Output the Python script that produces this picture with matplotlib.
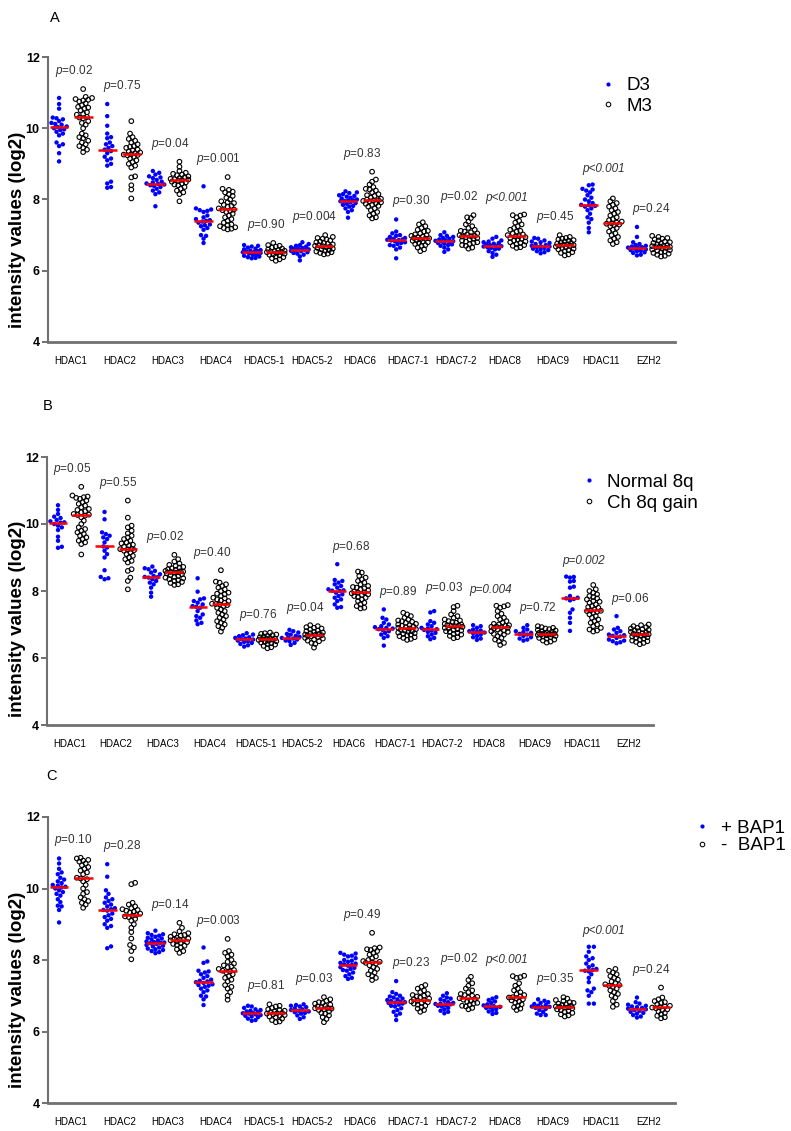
import numpy as np
import matplotlib.pyplot as plt
from matplotlib.lines import Line2D

plt.rcParams['font.family'] = ['Liberation Sans', 'DejaVu Sans']
plt.rcParams['mathtext.fontset'] = 'custom'
plt.rcParams['mathtext.it'] = 'Liberation Sans:italic'
plt.rcParams['mathtext.rm'] = 'Liberation Sans'

genes = ['HDAC1', 'HDAC2', 'HDAC3', 'HDAC4', 'HDAC5-1', 'HDAC5-2', 'HDAC6',
         'HDAC7-1', 'HDAC7-2', 'HDAC8', 'HDAC9', 'HDAC11', 'EZH2']

# ---- panel A : D3 vs M3
a_d3 = [
    [10.85, 10.68, 10.55, 10.3, 10.28, 10.25, 10.2, 10.15, 10.12, 10.1, 10.05, 10.03, 10.0, 9.97, 9.95, 9.9, 9.85, 9.8, 9.6, 9.55, 9.5, 9.3, 9.07],
    [10.68, 10.34, 10.07, 9.85, 9.75, 9.72, 9.6, 9.55, 9.5, 9.45, 9.4, 9.36, 9.3, 9.2, 9.15, 9.1, 9.0, 8.95, 8.5, 8.45, 8.35, 8.33],
    [8.8, 8.75, 8.7, 8.65, 8.62, 8.6, 8.55, 8.5, 8.48, 8.45, 8.44, 8.42, 8.4, 8.38, 8.35, 8.3, 8.25, 8.2, 8.15, 7.81],
    [8.37, 7.75, 7.72, 7.7, 7.68, 7.65, 7.55, 7.5, 7.45, 7.42, 7.4, 7.38, 7.35, 7.3, 7.28, 7.25, 7.2, 7.15, 7.0, 6.98, 6.9, 6.78],
    [6.72, 6.7, 6.68, 6.65, 6.62, 6.6, 6.58, 6.56, 6.55, 6.54, 6.53, 6.52, 6.5, 6.48, 6.46, 6.45, 6.42, 6.4, 6.38, 6.36, 6.35],
    [6.8, 6.75, 6.72, 6.7, 6.68, 6.66, 6.64, 6.62, 6.61, 6.6, 6.59, 6.58, 6.56, 6.55, 6.52, 6.5, 6.48, 6.45, 6.4, 6.29],
    [8.23, 8.2, 8.18, 8.15, 8.12, 8.1, 8.08, 8.05, 8.03, 8.0, 7.98, 7.97, 7.96, 7.95, 7.92, 7.9, 7.88, 7.85, 7.82, 7.8, 7.75, 7.7, 7.65, 7.49],
    [7.44, 7.1, 7.05, 7.0, 6.98, 6.95, 6.92, 6.9, 6.88, 6.87, 6.86, 6.85, 6.83, 6.8, 6.78, 6.75, 6.72, 6.7, 6.65, 6.6, 6.35],
    [7.08, 7.0, 6.98, 6.95, 6.92, 6.9, 6.88, 6.86, 6.84, 6.83, 6.82, 6.8, 6.78, 6.76, 6.74, 6.72, 6.7, 6.65, 6.6, 6.53],
    [6.95, 6.9, 6.85, 6.82, 6.8, 6.78, 6.76, 6.74, 6.72, 6.7, 6.69, 6.68, 6.66, 6.64, 6.62, 6.6, 6.55, 6.5, 6.45, 6.39],
    [6.92, 6.9, 6.85, 6.82, 6.8, 6.78, 6.75, 6.72, 6.7, 6.69, 6.68, 6.66, 6.64, 6.62, 6.6, 6.58, 6.55, 6.52, 6.49],
    [8.42, 8.4, 8.3, 8.28, 8.25, 8.2, 8.12, 8.05, 8.0, 7.95, 7.9, 7.85, 7.84, 7.82, 7.8, 7.75, 7.7, 7.6, 7.5, 7.45, 7.35, 7.2, 7.08],
    [7.23, 6.95, 6.8, 6.75, 6.72, 6.7, 6.68, 6.66, 6.65, 6.64, 6.62, 6.6, 6.58, 6.56, 6.55, 6.52, 6.5, 6.45, 6.43],
]
a_m3 = [
    [11.1, 10.88, 10.85, 10.82, 10.8, 10.78, 10.75, 10.7, 10.65, 10.6, 10.58, 10.55, 10.5, 10.45, 10.4, 10.38, 10.32, 10.3, 10.28, 10.2, 10.15, 10.1, 10.0, 9.85, 9.8, 9.75, 9.72, 9.65, 9.6, 9.55, 9.5, 9.45, 9.4, 9.33],
    [10.2, 9.85, 9.75, 9.7, 9.65, 9.6, 9.55, 9.5, 9.48, 9.45, 9.4, 9.38, 9.35, 9.32, 9.3, 9.27, 9.26, 9.25, 9.24, 9.2, 9.15, 9.1, 9.05, 9.0, 8.95, 8.9, 8.65, 8.62, 8.4, 8.28, 8.03],
    [9.06, 8.92, 8.8, 8.75, 8.72, 8.7, 8.68, 8.65, 8.62, 8.6, 8.58, 8.57, 8.56, 8.55, 8.52, 8.5, 8.48, 8.45, 8.42, 8.4, 8.35, 8.3, 8.25, 8.2, 8.15, 7.95],
    [8.63, 8.3, 8.27, 8.22, 8.2, 8.15, 8.1, 8.05, 8.0, 7.95, 7.92, 7.9, 7.85, 7.82, 7.8, 7.75, 7.72, 7.7, 7.68, 7.65, 7.6, 7.55, 7.5, 7.45, 7.4, 7.35, 7.3, 7.28, 7.25, 7.22, 7.2, 7.18, 7.16],
    [6.78, 6.72, 6.7, 6.68, 6.65, 6.62, 6.6, 6.58, 6.56, 6.55, 6.54, 6.53, 6.52, 6.5, 6.48, 6.46, 6.45, 6.43, 6.4, 6.38, 6.35, 6.32, 6.28],
    [7.0, 6.95, 6.92, 6.9, 6.88, 6.85, 6.82, 6.8, 6.78, 6.76, 6.74, 6.72, 6.7, 6.69, 6.68, 6.66, 6.64, 6.62, 6.6, 6.58, 6.56, 6.54, 6.52, 6.5, 6.48, 6.46],
    [8.78, 8.56, 8.5, 8.42, 8.35, 8.3, 8.28, 8.25, 8.2, 8.15, 8.12, 8.1, 8.05, 8.02, 8.0, 7.98, 7.97, 7.96, 7.95, 7.92, 7.9, 7.88, 7.85, 7.82, 7.8, 7.75, 7.7, 7.65, 7.6, 7.55, 7.5, 7.47],
    [7.36, 7.3, 7.25, 7.2, 7.15, 7.12, 7.1, 7.05, 7.02, 7.0, 6.98, 6.96, 6.94, 6.92, 6.91, 6.9, 6.88, 6.86, 6.84, 6.82, 6.8, 6.78, 6.75, 6.72, 6.7, 6.65, 6.6, 6.55],
    [7.56, 7.5, 7.48, 7.38, 7.3, 7.25, 7.2, 7.15, 7.12, 7.1, 7.08, 7.05, 7.02, 7.0, 6.98, 6.97, 6.96, 6.94, 6.92, 6.9, 6.88, 6.85, 6.82, 6.8, 6.78, 6.75, 6.72, 6.7, 6.65, 6.62],
    [7.58, 7.56, 7.55, 7.5, 7.4, 7.35, 7.3, 7.25, 7.2, 7.15, 7.12, 7.1, 7.05, 7.02, 7.0, 6.97, 6.96, 6.94, 6.92, 6.9, 6.88, 6.85, 6.82, 6.8, 6.78, 6.75, 6.72, 6.7, 6.66, 6.64],
    [7.0, 6.95, 6.92, 6.9, 6.88, 6.86, 6.84, 6.82, 6.8, 6.78, 6.76, 6.74, 6.73, 6.72, 6.71, 6.7, 6.68, 6.66, 6.64, 6.62, 6.6, 6.58, 6.55, 6.52, 6.5, 6.46, 6.43],
    [8.03, 7.95, 7.9, 7.85, 7.8, 7.75, 7.7, 7.65, 7.6, 7.55, 7.5, 7.45, 7.42, 7.38, 7.35, 7.33, 7.32, 7.3, 7.28, 7.25, 7.2, 7.15, 7.1, 7.05, 7.0, 6.95, 6.9, 6.85, 6.8, 6.75],
    [6.98, 6.95, 6.92, 6.9, 6.88, 6.85, 6.82, 6.8, 6.78, 6.76, 6.74, 6.72, 6.7, 6.69, 6.68, 6.67, 6.66, 6.64, 6.62, 6.6, 6.58, 6.56, 6.54, 6.52, 6.5, 6.48, 6.45, 6.42, 6.4],
]
a_p = ['=0.02', '=0.75', '=0.04', '=0.001', '=0.90', '=0.004', '=0.83',
       '=0.30', '=0.02', '<0.001', '=0.45', '<0.001', '=0.24']

# ---- panel B : Normal 8q vs Ch 8q gain
b_norm = [
    [10.56, 10.42, 10.3, 10.22, 10.18, 10.12, 10.08, 10.05, 10.04, 10.0, 9.95, 9.9, 9.82, 9.62, 9.5, 9.32, 9.29],
    [10.36, 10.14, 9.75, 9.7, 9.65, 9.6, 9.55, 9.45, 9.33, 9.3, 9.2, 9.1, 9.0, 8.62, 8.42, 8.38, 8.35],
    [8.73, 8.68, 8.65, 8.6, 8.55, 8.5, 8.45, 8.42, 8.41, 8.4, 8.35, 8.3, 8.25, 8.2, 8.1, 7.95, 7.83],
    [8.38, 7.98, 7.78, 7.75, 7.7, 7.65, 7.6, 7.55, 7.53, 7.5, 7.4, 7.3, 7.25, 7.2, 7.12, 7.05, 7.01],
    [6.74, 6.7, 6.68, 6.65, 6.62, 6.6, 6.58, 6.56, 6.55, 6.52, 6.5, 6.48, 6.45, 6.42, 6.38, 6.34],
    [6.84, 6.8, 6.76, 6.72, 6.7, 6.66, 6.63, 6.61, 6.6, 6.58, 6.55, 6.52, 6.5, 6.45, 6.39],
    [8.8, 8.33, 8.3, 8.25, 8.2, 8.15, 8.1, 8.05, 8.02, 8.01, 8.0, 7.95, 7.9, 7.85, 7.8, 7.75, 7.7, 7.6, 7.52, 7.5],
    [7.45, 7.2, 7.15, 7.05, 7.0, 6.95, 6.92, 6.9, 6.88, 6.86, 6.84, 6.8, 6.75, 6.7, 6.65, 6.6, 6.37],
    [7.4, 7.36, 7.1, 7.05, 7.0, 6.95, 6.9, 6.88, 6.86, 6.84, 6.82, 6.78, 6.75, 6.7, 6.65, 6.6, 6.56],
    [6.98, 6.95, 6.9, 6.85, 6.82, 6.8, 6.78, 6.76, 6.74, 6.7, 6.66, 6.62, 6.58, 6.54],
    [6.98, 6.9, 6.85, 6.8, 6.78, 6.75, 6.72, 6.7, 6.66, 6.62, 6.58, 6.55, 6.52],
    [8.43, 8.42, 8.4, 8.3, 8.28, 8.13, 8.1, 7.85, 7.8, 7.78, 7.76, 7.72, 7.45, 7.35, 7.2, 7.05, 6.81],
    [7.25, 6.9, 6.85, 6.8, 6.75, 6.7, 6.68, 6.66, 6.64, 6.6, 6.55, 6.52, 6.5, 6.47, 6.44],
]
b_gain = [
    [11.11, 10.85, 10.82, 10.8, 10.78, 10.75, 10.7, 10.65, 10.6, 10.55, 10.5, 10.45, 10.42, 10.38, 10.35, 10.3, 10.28, 10.27, 10.25, 10.2, 10.1, 10.0, 9.9, 9.85, 9.8, 9.75, 9.7, 9.65, 9.6, 9.55, 9.5, 9.45, 9.4, 9.09],
    [10.7, 10.19, 9.95, 9.9, 9.8, 9.72, 9.65, 9.6, 9.55, 9.5, 9.45, 9.42, 9.38, 9.35, 9.32, 9.26, 9.25, 9.24, 9.22, 9.2, 9.15, 9.1, 9.05, 9.0, 8.95, 8.9, 8.85, 8.65, 8.6, 8.4, 8.3, 8.05],
    [9.08, 8.95, 8.88, 8.82, 8.78, 8.75, 8.72, 8.7, 8.68, 8.65, 8.63, 8.6, 8.59, 8.58, 8.57, 8.56, 8.55, 8.53, 8.5, 8.48, 8.45, 8.42, 8.4, 8.38, 8.35, 8.32, 8.3, 8.27, 8.24, 8.2, 8.18],
    [8.62, 8.28, 8.25, 8.2, 8.15, 8.1, 8.05, 8.0, 7.95, 7.92, 7.9, 7.85, 7.8, 7.78, 7.75, 7.72, 7.7, 7.65, 7.62, 7.61, 7.6, 7.58, 7.55, 7.5, 7.45, 7.4, 7.35, 7.3, 7.25, 7.2, 7.15, 7.1, 7.05, 7.0, 6.95, 6.9, 6.79],
    [6.76, 6.74, 6.72, 6.7, 6.68, 6.66, 6.64, 6.62, 6.6, 6.58, 6.57, 6.56, 6.55, 6.54, 6.52, 6.5, 6.48, 6.46, 6.44, 6.42, 6.4, 6.36, 6.32, 6.29],
    [6.98, 6.95, 6.92, 6.9, 6.88, 6.85, 6.82, 6.8, 6.78, 6.76, 6.74, 6.72, 6.7, 6.69, 6.68, 6.67, 6.65, 6.63, 6.6, 6.58, 6.55, 6.52, 6.5, 6.45, 6.42, 6.31],
    [8.58, 8.55, 8.45, 8.4, 8.35, 8.3, 8.25, 8.2, 8.15, 8.12, 8.1, 8.08, 8.05, 8.02, 7.98, 7.96, 7.95, 7.93, 7.9, 7.88, 7.85, 7.82, 7.8, 7.75, 7.7, 7.65, 7.6, 7.55, 7.5, 7.48],
    [7.35, 7.3, 7.25, 7.2, 7.15, 7.12, 7.1, 7.08, 7.05, 7.02, 7.0, 6.98, 6.96, 6.94, 6.92, 6.9, 6.88, 6.86, 6.84, 6.82, 6.8, 6.78, 6.76, 6.74, 6.72, 6.7, 6.68, 6.65, 6.62, 6.6, 6.57, 6.54],
    [7.56, 7.52, 7.4, 7.3, 7.25, 7.2, 7.15, 7.12, 7.1, 7.07, 7.05, 7.02, 7.0, 6.98, 6.97, 6.96, 6.95, 6.93, 6.9, 6.88, 6.86, 6.84, 6.82, 6.8, 6.78, 6.75, 6.72, 6.7, 6.66, 6.62, 6.59],
    [7.58, 7.56, 7.54, 7.5, 7.4, 7.32, 7.25, 7.2, 7.15, 7.1, 7.06, 7.02, 7.0, 6.98, 6.96, 6.94, 6.93, 6.92, 6.9, 6.88, 6.85, 6.82, 6.8, 6.78, 6.75, 6.72, 6.7, 6.65, 6.6, 6.55, 6.5, 6.45, 6.39],
    [6.95, 6.92, 6.9, 6.88, 6.86, 6.84, 6.82, 6.8, 6.78, 6.76, 6.75, 6.74, 6.73, 6.72, 6.71, 6.7, 6.69, 6.68, 6.66, 6.64, 6.62, 6.6, 6.58, 6.55, 6.52, 6.49, 6.46],
    [8.18, 8.05, 8.0, 7.95, 7.9, 7.85, 7.82, 7.78, 7.75, 7.7, 7.68, 7.65, 7.6, 7.55, 7.52, 7.5, 7.45, 7.42, 7.41, 7.4, 7.38, 7.35, 7.3, 7.25, 7.2, 7.15, 7.1, 7.05, 7.0, 6.95, 6.9, 6.85, 6.82, 6.79],
    [7.0, 6.98, 6.95, 6.92, 6.9, 6.88, 6.86, 6.84, 6.82, 6.8, 6.78, 6.76, 6.74, 6.72, 6.71, 6.7, 6.68, 6.66, 6.64, 6.62, 6.6, 6.58, 6.55, 6.52, 6.5, 6.48, 6.45, 6.41],
]
b_p = ['=0.05', '=0.55', '=0.02', '=0.40', '=0.76', '=0.04', '=0.68',
       '=0.89', '=0.03', '=0.004', '=0.72', '=0.002', '=0.06']

# ---- panel C : + BAP1 vs - BAP1
c_pos = [
    [10.84, 10.7, 10.55, 10.45, 10.4, 10.3, 10.25, 10.2, 10.15, 10.1, 10.08, 10.05, 10.03, 10.0, 9.95, 9.9, 9.85, 9.8, 9.7, 9.62, 9.52, 9.5, 9.4, 9.05],
    [10.68, 10.33, 9.95, 9.85, 9.75, 9.7, 9.65, 9.6, 9.55, 9.5, 9.45, 9.42, 9.4, 9.38, 9.3, 9.25, 9.2, 9.15, 9.1, 9.0, 8.95, 8.9, 8.38, 8.33],
    [8.82, 8.75, 8.72, 8.7, 8.68, 8.65, 8.62, 8.6, 8.58, 8.55, 8.52, 8.5, 8.49, 8.48, 8.47, 8.45, 8.42, 8.4, 8.38, 8.35, 8.32, 8.3, 8.28, 8.25, 8.22, 8.19],
    [8.35, 7.96, 7.92, 7.7, 7.68, 7.65, 7.6, 7.55, 7.5, 7.45, 7.42, 7.4, 7.38, 7.36, 7.32, 7.3, 7.28, 7.25, 7.2, 7.15, 7.1, 7.0, 6.98, 6.9, 6.74],
    [6.72, 6.7, 6.66, 6.62, 6.6, 6.58, 6.56, 6.54, 6.52, 6.51, 6.5, 6.48, 6.46, 6.44, 6.42, 6.4, 6.36, 6.32, 6.3],
    [6.76, 6.74, 6.72, 6.7, 6.68, 6.65, 6.62, 6.6, 6.58, 6.56, 6.54, 6.52, 6.5, 6.45, 6.4, 6.35],
    [8.2, 8.18, 8.15, 8.12, 8.1, 8.05, 8.0, 7.98, 7.95, 7.92, 7.9, 7.88, 7.86, 7.84, 7.8, 7.78, 7.75, 7.72, 7.7, 7.65, 7.6, 7.55, 7.5, 7.47],
    [7.41, 7.1, 7.05, 7.0, 6.98, 6.95, 6.92, 6.9, 6.88, 6.85, 6.83, 6.82, 6.81, 6.8, 6.78, 6.75, 6.72, 6.7, 6.65, 6.6, 6.55, 6.5, 6.45, 6.32],
    [7.07, 7.0, 6.95, 6.92, 6.9, 6.86, 6.82, 6.8, 6.78, 6.77, 6.76, 6.74, 6.72, 6.7, 6.66, 6.62, 6.58, 6.55, 6.51],
    [6.96, 6.92, 6.88, 6.84, 6.8, 6.76, 6.73, 6.71, 6.69, 6.68, 6.66, 6.63, 6.6, 6.56, 6.52, 6.49],
    [6.9, 6.86, 6.82, 6.8, 6.77, 6.74, 6.72, 6.7, 6.69, 6.68, 6.66, 6.63, 6.6, 6.55, 6.5, 6.46, 6.46],
    [8.37, 8.37, 8.23, 8.1, 8.05, 8.0, 7.9, 7.85, 7.8, 7.75, 7.72, 7.7, 7.68, 7.6, 7.5, 7.38, 7.2, 7.15, 7.1, 7.0, 6.78, 6.78],
    [6.95, 6.82, 6.78, 6.75, 6.72, 6.7, 6.68, 6.66, 6.64, 6.62, 6.6, 6.58, 6.55, 6.52, 6.5, 6.46, 6.42, 6.39],
]
c_neg = [
    [10.86, 10.84, 10.8, 10.78, 10.75, 10.7, 10.65, 10.6, 10.55, 10.5, 10.45, 10.4, 10.3, 10.28, 10.26, 10.2, 10.1, 10.0, 9.9, 9.85, 9.75, 9.7, 9.65, 9.6, 9.55, 9.46],
    [10.16, 10.12, 9.6, 9.55, 9.5, 9.45, 9.42, 9.4, 9.38, 9.35, 9.32, 9.3, 9.26, 9.24, 9.22, 9.2, 9.15, 9.1, 9.0, 8.9, 8.78, 8.6, 8.42, 8.35, 8.25, 8.02],
    [9.04, 8.9, 8.8, 8.75, 8.72, 8.7, 8.68, 8.65, 8.62, 8.6, 8.58, 8.57, 8.56, 8.55, 8.52, 8.5, 8.48, 8.45, 8.42, 8.4, 8.35, 8.3, 8.25, 8.2],
    [8.59, 8.25, 8.2, 8.15, 8.1, 8.0, 7.95, 7.9, 7.85, 7.82, 7.8, 7.75, 7.72, 7.7, 7.68, 7.65, 7.6, 7.55, 7.5, 7.45, 7.4, 7.3, 7.25, 7.2, 7.1, 7.0, 6.89],
    [6.76, 6.72, 6.7, 6.66, 6.62, 6.6, 6.58, 6.56, 6.54, 6.52, 6.51, 6.5, 6.48, 6.46, 6.44, 6.42, 6.4, 6.36, 6.32, 6.28, 6.26],
    [6.96, 6.9, 6.86, 6.82, 6.8, 6.78, 6.75, 6.72, 6.7, 6.68, 6.66, 6.65, 6.64, 6.62, 6.6, 6.56, 6.52, 6.5, 6.45, 6.4, 6.35, 6.26],
    [8.76, 8.35, 8.33, 8.3, 8.28, 8.25, 8.2, 8.15, 8.1, 8.05, 8.0, 7.97, 7.95, 7.94, 7.92, 7.9, 7.85, 7.8, 7.75, 7.7, 7.65, 7.6, 7.55, 7.5, 7.44],
    [7.3, 7.25, 7.2, 7.15, 7.1, 7.05, 7.02, 7.0, 6.98, 6.95, 6.92, 6.9, 6.88, 6.86, 6.84, 6.82, 6.8, 6.78, 6.75, 6.72, 6.68, 6.64, 6.6, 6.55],
    [7.53, 7.44, 7.35, 7.28, 7.2, 7.15, 7.1, 7.05, 7.02, 7.0, 6.97, 6.95, 6.93, 6.91, 6.89, 6.86, 6.83, 6.8, 6.78, 6.75, 6.72, 6.7, 6.66, 6.62],
    [7.56, 7.55, 7.52, 7.5, 7.35, 7.28, 7.2, 7.15, 7.1, 7.05, 7.02, 6.98, 6.96, 6.95, 6.93, 6.9, 6.87, 6.84, 6.8, 6.76, 6.72, 6.68, 6.64, 6.6],
    [6.96, 6.92, 6.88, 6.85, 6.82, 6.8, 6.78, 6.76, 6.74, 6.72, 6.7, 6.69, 6.68, 6.67, 6.65, 6.62, 6.6, 6.58, 6.55, 6.52, 6.48, 6.45, 6.42],
    [7.75, 7.7, 7.65, 7.6, 7.55, 7.5, 7.45, 7.4, 7.35, 7.32, 7.3, 7.28, 7.25, 7.2, 7.15, 7.1, 7.05, 7.0, 6.95, 6.85, 6.75, 6.69],
    [7.23, 6.95, 6.9, 6.85, 6.82, 6.8, 6.76, 6.72, 6.7, 6.68, 6.67, 6.65, 6.62, 6.6, 6.56, 6.52, 6.48, 6.44, 6.4, 6.37],
]
c_p = ['=0.10', '=0.28', '=0.14', '=0.003', '=0.81', '=0.03', '=0.49',
       '=0.23', '=0.02', '<0.001', '=0.35', '<0.001', '=0.24']

italic_idx = [9, 11]   # HDAC8 and HDAC11 p-values set fully in italics

FIG_W, FIG_H = 791, 1131
GRAY = '#707070'


def swarm_x(ax, x0, vals, d=3.8, cap=10.0):
    """beeswarm offsets computed in pixel space, width capped like GraphPad"""
    vals = np.asarray(vals, float)
    pts = ax.transData.transform(np.column_stack([np.full(len(vals), x0), vals]))
    px_per_x = (ax.transData.transform((1, 0)) - ax.transData.transform((0, 0)))[0]
    order = np.argsort(vals)
    placed = []
    xs = np.full(len(vals), float(x0))
    cands = [0.0]
    k = 1
    while k * d / 3.0 <= cap:
        cands += [k * d / 3.0, -k * d / 3.0]
        k += 1
    for i in order:
        cx, cy = pts[i]
        best, best_gap = 0.0, -1.0
        for off in cands:
            gap = min([np.hypot(cx + off - qx, cy - qy) for qx, qy in placed] or [99.0])
            if gap >= d:
                best = off
                break
            if gap > best_gap:
                best, best_gap = off, gap
        placed.append((cx + best, cy))
        xs[i] = x0 + best / px_per_x
    return xs


def panel(rect, blue, black, pvals, letter, letter_xy, labels, leg_xy, leg_space):
    ax = fig.add_axes(rect)
    ax.set_xlim(-0.46, 25.58)
    ax.set_ylim(4, 12)
    for g in range(len(genes)):
        for k, (vals, kind) in enumerate([(blue[g], 'b'), (black[g], 'k')]):
            x0 = 2 * g + k
            xs = swarm_x(ax, x0, vals)
            if kind == 'b':
                ax.scatter(xs, vals, s=10, color='#0000ff', edgecolors='none', zorder=3)
            else:
                ax.scatter(xs, vals, s=11, facecolors='none', edgecolors='black',
                           linewidths=0.8, zorder=3)
            med = np.median(vals)
            ax.plot([x0 - 0.39, x0 + 0.39], [med, med], color='red', lw=1.8,
                    solid_capstyle='butt', zorder=4)
        top = max(max(blue[g]), max(black[g]))
        if g in italic_idx:
            ax.text(2 * g + 0.6, top + 0.28, 'p' + pvals[g], ha='center', va='bottom',
                    fontsize=8.5, style='italic', color='#333333')
        else:
            ax.text(2 * g + 0.6, top + 0.28, '$p$' + pvals[g], ha='center', va='bottom',
                    fontsize=8.5, color='#333333')

    for s in ['top', 'right']:
        ax.spines[s].set_visible(False)
    ax.spines['left'].set_color(GRAY)
    ax.spines['left'].set_linewidth(1.5)
    ax.spines['bottom'].set_color(GRAY)
    ax.spines['bottom'].set_linewidth(2)
    ax.set_yticks([4, 6, 8, 10, 12])
    ax.tick_params(axis='y', length=4, width=1.4, color=GRAY, labelsize=9, pad=2)
    for t in ax.get_yticklabels():
        t.set_fontweight('bold')
    ax.set_xticks([2 * g + 0.5 for g in range(len(genes))])
    ax.set_xticklabels(genes, fontsize=7, family=['Liberation Sans Narrow', 'Liberation Sans'])
    ax.tick_params(axis='x', length=0, pad=10)
    ax.set_ylabel('intensity values (log2)', fontsize=13.5, fontweight='bold')
    ax.yaxis.set_label_coords(-0.035, 0.395)

    handles = [Line2D([], [], ls='none', marker='o', ms=3, mfc='#0000ff', mec='none'),
               Line2D([], [], ls='none', marker='o', ms=3.3, mfc='none', mec='black', mew=0.75)]
    ax.legend(handles, labels, loc='upper left', bbox_to_anchor=leg_xy, frameon=False,
              fontsize=13.5, handlelength=1, handletextpad=0.5, borderpad=0,
              borderaxespad=0, labelspacing=leg_space)
    fig.text(letter_xy[0] / FIG_W, 1 - letter_xy[1] / FIG_H, letter, fontsize=10.5,
             ha='center', va='center')
    return ax


fig = plt.figure(figsize=(7.91, 11.31), dpi=100)

panel([48 / FIG_W, 1 - 342 / FIG_H, 627 / FIG_W, 285 / FIG_H], a_d3, a_m3, a_p,
      'A', (55, 18), ['D3', 'M3'], (0.878, 0.93), 0.2)
panel([47.3 / FIG_W, 1 - 725 / FIG_H, 606 / FIG_W, 268 / FIG_H], b_norm, b_gain, b_p,
      'B', (48, 406), ['Normal 8q', 'Ch 8q gain'], (0.878, 0.937), 0.2)
panel([48 / FIG_W, 1 - 1103 / FIG_H, 627 / FIG_W, 286 / FIG_H], c_pos, c_neg, c_p,
      'C', (52, 776), ['+ BAP1', '-  BAP1'], (1.028, 0.99), 0.0)

fig.savefig('out.png', dpi=100)
